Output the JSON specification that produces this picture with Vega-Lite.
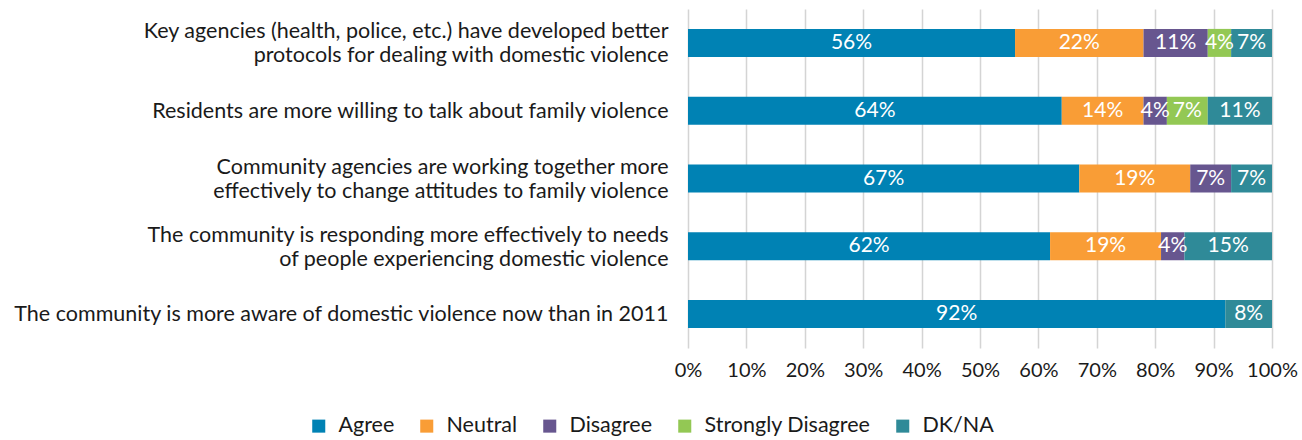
{
  "$schema": "https://vega.github.io/schema/vega-lite/v6.json",
  "width": 584,
  "height": 339,
  "autosize": {"type": "none"},
  "padding": {"left": 688, "top": 9, "right": 30, "bottom": 92},
  "background": "white",
  "config": {"view": {"stroke": null}, "font": "Lato"},
  "data": {
    "values": [
      {"statement": "Key agencies (health, police, etc.) have developed better|protocols for dealing with domestic violence", "response": "Agree", "pct": 56},
      {"statement": "Key agencies (health, police, etc.) have developed better|protocols for dealing with domestic violence", "response": "Neutral", "pct": 22},
      {"statement": "Key agencies (health, police, etc.) have developed better|protocols for dealing with domestic violence", "response": "Disagree", "pct": 11},
      {"statement": "Key agencies (health, police, etc.) have developed better|protocols for dealing with domestic violence", "response": "Strongly Disagree", "pct": 4},
      {"statement": "Key agencies (health, police, etc.) have developed better|protocols for dealing with domestic violence", "response": "DK/NA", "pct": 7},
      {"statement": "Residents are more willing to talk about family violence", "response": "Agree", "pct": 64},
      {"statement": "Residents are more willing to talk about family violence", "response": "Neutral", "pct": 14},
      {"statement": "Residents are more willing to talk about family violence", "response": "Disagree", "pct": 4},
      {"statement": "Residents are more willing to talk about family violence", "response": "Strongly Disagree", "pct": 7},
      {"statement": "Residents are more willing to talk about family violence", "response": "DK/NA", "pct": 11},
      {"statement": "Community agencies are working together more|effectively to change attitudes to family violence", "response": "Agree", "pct": 67},
      {"statement": "Community agencies are working together more|effectively to change attitudes to family violence", "response": "Neutral", "pct": 19},
      {"statement": "Community agencies are working together more|effectively to change attitudes to family violence", "response": "Disagree", "pct": 7},
      {"statement": "Community agencies are working together more|effectively to change attitudes to family violence", "response": "DK/NA", "pct": 7},
      {"statement": "The community is responding more effectively to needs|of people experiencing domestic violence", "response": "Agree", "pct": 62},
      {"statement": "The community is responding more effectively to needs|of people experiencing domestic violence", "response": "Neutral", "pct": 19},
      {"statement": "The community is responding more effectively to needs|of people experiencing domestic violence", "response": "Disagree", "pct": 4},
      {"statement": "The community is responding more effectively to needs|of people experiencing domestic violence", "response": "DK/NA", "pct": 15},
      {"statement": "The community is more aware of domestic violence now than in 2011", "response": "Agree", "pct": 92},
      {"statement": "The community is more aware of domestic violence now than in 2011", "response": "DK/NA", "pct": 8}
    ]
  },
  "transform": [
    {"calculate": "indexof(['Agree','Neutral','Disagree','Strongly Disagree','DK/NA'], datum.response)", "as": "rank"},
    {"stack": "pct", "groupby": ["statement"], "offset": "normalize", "sort": [{"field": "rank", "order": "ascending"}], "as": ["x0", "x1"]},
    {"calculate": "(datum.x0 + datum.x1) / 2", "as": "xm"},
    {"calculate": "datum.pct + '%'", "as": "lbl"}
  ],
  "encoding": {
    "y": {
      "field": "statement",
      "type": "nominal",
      "sort": [
        "Key agencies (health, police, etc.) have developed better|protocols for dealing with domestic violence",
        "Residents are more willing to talk about family violence",
        "Community agencies are working together more|effectively to change attitudes to family violence",
        "The community is responding more effectively to needs|of people experiencing domestic violence",
        "The community is more aware of domestic violence now than in 2011"
      ],
      "scale": {"paddingInner": 0.587, "paddingOuter": 0.2935},
      "axis": {
        "title": null,
        "domain": false,
        "ticks": false,
        "labelFontSize": 21.5,
        "labelColor": "#1a1a1a",
        "labelPadding": 20,
        "labelLimit": 0,
        "labelLineHeight": 24,
        "labelOverlap": false,
        "labelOffset": {"condition": {"test": "indexof(datum.value, '|') >= 0", "value": -10.5}, "value": 1},
        "labelExpr": "split(datum.label, '|')"
      }
    }
  },
  "layer": [
    {
      "mark": {"type": "bar"},
      "encoding": {
        "x": {
          "field": "x0",
          "type": "quantitative",
          "scale": {"domain": [0, 1]},
          "axis": {
            "title": null,
            "format": "%",
            "values": [0, 0.1, 0.2, 0.3, 0.4, 0.5, 0.6, 0.7, 0.8, 0.9, 1],
            "grid": true,
            "gridColor": "#D4D4D4",
            "gridWidth": 1.5,
            "domain": false,
            "ticks": false,
            "labelOverlap": false,
            "labelFlush": false,
            "labelFontSize": 20,
            "labelColor": "#1a1a1a",
            "labelPadding": 12
          }
        },
        "x2": {"field": "x1"},
        "color": {
          "field": "response",
          "type": "nominal",
          "scale": {
            "domain": ["Agree", "Neutral", "Disagree", "Strongly Disagree", "DK/NA"],
            "range": ["#0082B4", "#F99D36", "#67568F", "#93C854", "#2F8A98"]
          },
          "legend": {
            "title": null,
            "orient": "none",
            "direction": "horizontal",
            "legendX": -380,
            "legendY": 406,
            "symbolType": "square",
            "symbolSize": 170,
            "symbolStrokeWidth": 0,
            "labelFontSize": 21.5,
            "labelLimit": 0,
            "labelColor": "#1a1a1a",
            "labelOffset": 9,
            "columnPadding": 21
          }
        }
      }
    },
    {
      "mark": {"type": "text", "color": "white", "fontSize": 21},
      "encoding": {
        "x": {"field": "xm", "type": "quantitative"},
        "text": {"field": "lbl", "type": "nominal"}
      }
    }
  ]
}
